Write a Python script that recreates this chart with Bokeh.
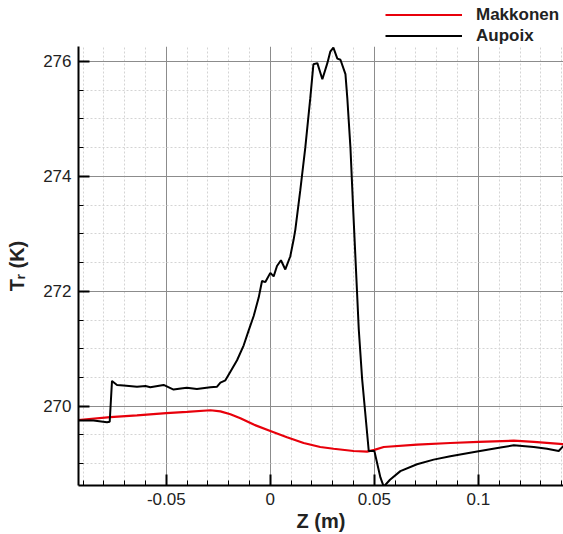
from bokeh.plotting import figure
from bokeh.layouts import column
from bokeh.models import (Range1d, FixedTicker, CustomJSTickFormatter, Legend, LegendItem)
from bokeh.embed import file_html
from bokeh.resources import INLINE

# Recovery temperature along the surface, two correlations
z_aupoix = [-0.0922, -0.0850, -0.0785, -0.0772, -0.0761, -0.0737, -0.0705, -0.0641,
            -0.0600, -0.0577, -0.0513, -0.0465, -0.0430, -0.0401, -0.0353, -0.0288,
            -0.0256, -0.0240, -0.0216, -0.0192, -0.0160, -0.0128, -0.0104, -0.0080,
            -0.0056, -0.0040, -0.0024, 0.0000, 0.0016, 0.0032, 0.0051, 0.0072,
            0.0096, 0.0112, 0.0120, 0.0144, 0.0168, 0.0192, 0.0207, 0.0226,
            0.0250, 0.0274, 0.0288, 0.0303, 0.0322, 0.0337, 0.0361, 0.0370,
            0.0385, 0.0399, 0.0425, 0.0441, 0.0473, 0.0500, 0.0529, 0.0545,
            0.0575, 0.0625, 0.0705, 0.0785, 0.0865, 0.0994, 0.1106, 0.1170,
            0.1266, 0.1330, 0.1386, 0.1409]
t_aupoix = [269.75, 269.75, 269.72, 269.73, 270.44, 270.37, 270.36, 270.34,
            270.35, 270.33, 270.37, 270.29, 270.31, 270.32, 270.30, 270.33,
            270.34, 270.41, 270.45, 270.60, 270.80, 271.06, 271.32, 271.57,
            271.89, 272.18, 272.16, 272.32, 272.26, 272.44, 272.54, 272.38,
            272.61, 272.90, 273.07, 273.76, 274.50, 275.36, 275.95, 275.97,
            275.69, 275.97, 276.17, 276.24, 276.05, 276.03, 275.78, 275.36,
            274.50, 273.36, 271.34, 270.48, 269.22, 269.22, 268.76, 268.60,
            268.72, 268.87, 268.99, 269.07, 269.13, 269.21, 269.28, 269.32,
            269.29, 269.26, 269.22, 269.31]

z_makkonen = [-0.0922, -0.0769, -0.0641, -0.0500, -0.0401, -0.0288, -0.0240, -0.0192,
              -0.0144, -0.0080, 0.0000, 0.0080, 0.0160, 0.0240, 0.0304, 0.0400,
              0.0465, 0.0500, 0.0545, 0.0705, 0.0865, 0.1001, 0.1170, 0.1266, 0.1409]
t_makkonen = [269.76, 269.81, 269.84, 269.88, 269.90, 269.93, 269.91, 269.86,
              269.79, 269.68, 269.57, 269.46, 269.36, 269.29, 269.26, 269.22,
              269.21, 269.24, 269.29, 269.33, 269.36, 269.38, 269.40, 269.38, 269.34]

series_names = ["Makkonen", "Aupoix"]
series_colors = ["#e8000b", "black"]
series_widths = [2.2, 2]

x_major = [-0.05, 0.0, 0.05, 0.1]
x_minor = [round(-0.09 + 0.01 * i, 2) for i in range(24)]
y_major = [270, 272, 274, 276]
y_minor = [268.5 + 0.5 * i for i in range(17)]

FONT = "Liberation Sans"

# Main plot
p = figure(width=563, height=488, output_backend="svg", toolbar_location=None,
           x_range=Range1d(-0.0922, 0.1409), y_range=Range1d(268.62, 276.26),
           min_border_left=78, min_border_right=0, min_border_top=0, min_border_bottom=46)
p.outline_line_color = None
p.background_fill_color = "white"

series = [(z_makkonen, t_makkonen), (z_aupoix, t_aupoix)]
for (zs, ts), color, lw in zip(series, series_colors, series_widths):
    p.line(zs, ts, line_color=color, line_width=lw)

for ax, major, minor in ((p.xaxis[0], x_major, x_minor), (p.yaxis[0], y_major, y_minor)):
    ax.ticker = FixedTicker(ticks=major, minor_ticks=minor)
    ax.axis_line_width = 2
    ax.axis_line_color = "black"
    ax.major_tick_in = 11
    ax.major_tick_out = 0
    ax.major_tick_line_width = 2
    ax.minor_tick_in = 5
    ax.minor_tick_out = 0
    ax.minor_tick_line_width = 1
    ax.major_label_text_font = FONT
    ax.major_label_text_font_size = "17px"
    ax.major_label_text_color = "#222222"
    ax.major_label_standoff = 7
    ax.axis_label_text_font = FONT
    ax.axis_label_text_font_size = "20px"
    ax.axis_label_text_font_style = "bold"
    ax.axis_label_text_color = "#222222"
    ax.formatter = CustomJSTickFormatter(code="return tick.toString();")

p.xaxis.axis_label = "Z (m)"
p.yaxis.axis_label = "Tᵣ (K)"
p.xaxis.axis_label_standoff = 2
p.yaxis.axis_label_standoff = 12

for g, major, minor in ((p.xgrid[0], x_major, x_minor), (p.ygrid[0], y_major, y_minor)):
    g.ticker = FixedTicker(ticks=major, minor_ticks=minor)
    g.grid_line_color = "#8c8c8c"
    g.grid_line_width = 1
    g.minor_grid_line_color = "#d4d4d4"
    g.minor_grid_line_dash = "2 2"
    g.minor_grid_line_width = 1

# Key strip above the plot (its frame lines up with the main plot's frame).
# The key renderers carry the same series but sit outside this strip's ranges,
# so only their legend swatches show.
k = figure(width=563, height=46, output_backend="svg", toolbar_location=None,
           x_range=Range1d(10, 11), y_range=Range1d(10, 11),
           x_axis_type=None, y_axis_type=None, min_border=0)
k.outline_line_color = None
k.grid.visible = False
key_items = []
for name, (zs, ts), color, lw in zip(series_names, series, series_colors, series_widths):
    r = k.line(zs, ts, line_color=color, line_width=lw)
    key_items.append(LegendItem(label=name, renderers=[r]))

legend = Legend(items=key_items, location=(307, 0))
legend.padding = 0
legend.margin = 0
legend.spacing = 0
legend.glyph_width = 77
legend.glyph_height = 21
legend.label_height = 21
legend.label_standoff = 14
legend.label_text_font = FONT
legend.label_text_font_size = "17px"
legend.label_text_font_style = "bold"
legend.label_text_color = "#222222"
legend.border_line_color = None
legend.background_fill_alpha = 0
k.add_layout(legend)

layout = column(k, p, spacing=0)
open("out.html", "w").write(file_html(layout, INLINE))
